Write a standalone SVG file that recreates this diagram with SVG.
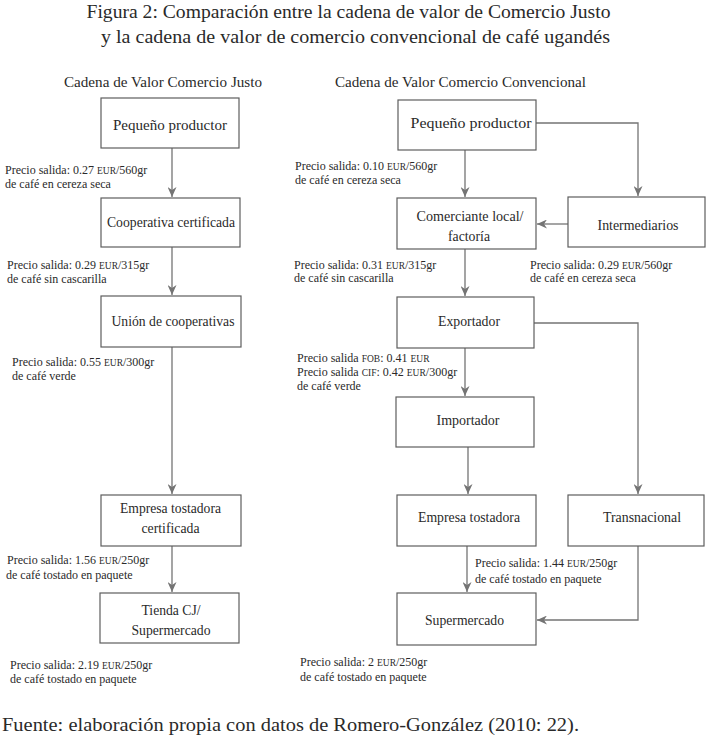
<svg xmlns="http://www.w3.org/2000/svg" width="711" height="747" viewBox="0 0 711 747" font-family="'Liberation Serif', 'Times New Roman', serif">
<defs>
<style>
text{font-family:"Liberation Serif","Times New Roman",serif;fill:#2a2a2a}
.title{font-size:19px}
.sub{font-size:15px}
.node{font-size:15px;text-anchor:middle}
.lbl{font-size:12px}
.sc{font-size:9.5px}
.box{fill:#ffffff;stroke:#5e5e5e;stroke-width:1.2}
.con{fill:none;stroke:#747474;stroke-width:1.3}
</style>
<marker id="ah" markerUnits="userSpaceOnUse" markerWidth="11" markerHeight="9" refX="10" refY="4.5" orient="auto">
<path d="M0,0 L10,4.5 L0,9 L3,4.5 Z" fill="#747474"/>
</marker>
</defs>
<rect width="711" height="747" fill="#ffffff"/>

<g id="titles">
<text class="title" x="348.5" y="18" text-anchor="middle" textLength="524" lengthAdjust="spacingAndGlyphs">Figura 2: Comparación entre la cadena de valor de Comercio Justo</text>
<text class="title" x="355.5" y="43" text-anchor="middle" textLength="509" lengthAdjust="spacingAndGlyphs">y la cadena de valor de comercio convencional de café ugandés</text>
<text class="sub" x="64" y="87" textLength="198" lengthAdjust="spacingAndGlyphs">Cadena de Valor Comercio Justo</text>
<text class="sub" x="335" y="87" textLength="251" lengthAdjust="spacingAndGlyphs">Cadena de Valor Comercio Convencional</text>
</g>

<g id="connectors">
<line class="con" x1="172" y1="148" x2="172" y2="197" marker-end="url(#ah)"/>
<line class="con" x1="172" y1="247" x2="172" y2="295" marker-end="url(#ah)"/>
<line class="con" x1="172" y1="347" x2="172" y2="494" marker-end="url(#ah)"/>
<line class="con" x1="172" y1="546" x2="172" y2="592" marker-end="url(#ah)"/>
<polyline class="con" points="536,123 638,123 638,196" marker-end="url(#ah)"/>
<line class="con" x1="465" y1="150" x2="465" y2="197" marker-end="url(#ah)"/>
<line class="con" x1="568" y1="224" x2="537" y2="224" marker-end="url(#ah)"/>
<line class="con" x1="465" y1="249" x2="465" y2="296" marker-end="url(#ah)"/>
<polyline class="con" points="534,323 638,323 638,494" marker-end="url(#ah)"/>
<line class="con" x1="465" y1="348" x2="465" y2="396" marker-end="url(#ah)"/>
<line class="con" x1="468" y1="447" x2="468" y2="494" marker-end="url(#ah)"/>
<line class="con" x1="467" y1="546" x2="467" y2="592" marker-end="url(#ah)"/>
<polyline class="con" points="638,546 638,620 537,620" marker-end="url(#ah)"/>
</g>

<g id="cj-productor"><rect class="box" x="101" y="98" width="138" height="50"/><text class="node" x="170" y="130" textLength="114" lengthAdjust="spacingAndGlyphs">Pequeño productor</text></g>
<g id="cj-cooperativa"><rect class="box" x="101" y="198" width="139" height="49"/><text class="node" x="171" y="227" textLength="128" lengthAdjust="spacingAndGlyphs">Cooperativa certificada</text></g>
<g id="cj-union"><rect class="box" x="101" y="296" width="140" height="51"/><text class="node" x="173" y="326" textLength="123" lengthAdjust="spacingAndGlyphs">Unión de cooperativas</text></g>
<g id="cj-tostadora"><rect class="box" x="101" y="495" width="140" height="51"/><text class="node" x="170.5" y="513" textLength="101" lengthAdjust="spacingAndGlyphs">Empresa tostadora</text><text class="node" x="170.5" y="533" textLength="58" lengthAdjust="spacingAndGlyphs">certificada</text></g>
<g id="cj-tienda"><rect class="box" x="100" y="593" width="139" height="50"/><text class="node" x="171" y="615" textLength="59" lengthAdjust="spacingAndGlyphs">Tienda CJ/</text><text class="node" x="171" y="635" textLength="79" lengthAdjust="spacingAndGlyphs">Supermercado</text></g>

<g id="cc-productor"><rect class="box" x="398" y="100" width="138" height="50"/><text class="node" x="471" y="128" textLength="121" lengthAdjust="spacingAndGlyphs">Pequeño productor</text></g>
<g id="cc-comerciante"><rect class="box" x="397" y="198" width="139" height="51"/><text class="node" x="470" y="221" textLength="107" lengthAdjust="spacingAndGlyphs">Comerciante local/</text><text class="node" x="469" y="241" textLength="42" lengthAdjust="spacingAndGlyphs">factoría</text></g>
<g id="cc-intermediarios"><rect class="box" x="568" y="197" width="137" height="50"/><text class="node" x="638" y="230" textLength="81" lengthAdjust="spacingAndGlyphs">Intermediarios</text></g>
<g id="cc-exportador"><rect class="box" x="397" y="297" width="137" height="51"/><text class="node" x="469" y="326" textLength="62" lengthAdjust="spacingAndGlyphs">Exportador</text></g>
<g id="cc-importador"><rect class="box" x="396" y="397" width="138" height="50"/><text class="node" x="468" y="425" textLength="63" lengthAdjust="spacingAndGlyphs">Importador</text></g>
<g id="cc-tostadora"><rect class="box" x="397" y="495" width="139" height="51"/><text class="node" x="469" y="522" textLength="102" lengthAdjust="spacingAndGlyphs">Empresa tostadora</text></g>
<g id="cc-transnacional"><rect class="box" x="568" y="495" width="136" height="51"/><text class="node" x="642" y="522" textLength="78" lengthAdjust="spacingAndGlyphs">Transnacional</text></g>
<g id="cc-supermercado"><rect class="box" x="397" y="593" width="139" height="52"/><text class="node" x="464.5" y="625" textLength="79" lengthAdjust="spacingAndGlyphs">Supermercado</text></g>

<g id="labels">
<text class="lbl" x="5" y="174">Precio salida: 0.27 <tspan class="sc">EUR</tspan>/560gr</text>
<text class="lbl" x="5" y="188">de café en cereza seca</text>
<text class="lbl" x="7" y="269">Precio salida: 0.29 <tspan class="sc">EUR</tspan>/315gr</text>
<text class="lbl" x="7" y="283">de café sin cascarilla</text>
<text class="lbl" x="12" y="366">Precio salida: 0.55 <tspan class="sc">EUR</tspan>/300gr</text>
<text class="lbl" x="12" y="380">de café verde</text>
<text class="lbl" x="7" y="564">Precio salida: 1.56 <tspan class="sc">EUR</tspan>/250gr</text>
<text class="lbl" x="6" y="579">de café tostado en paquete</text>
<text class="lbl" x="10" y="669">Precio salida: 2.19 <tspan class="sc">EUR</tspan>/250gr</text>
<text class="lbl" x="10" y="683">de café tostado en paquete</text>

<text class="lbl" x="295" y="170">Precio salida: 0.10 <tspan class="sc">EUR</tspan>/560gr</text>
<text class="lbl" x="295" y="183.5">de café en cereza seca</text>
<text class="lbl" x="294" y="268.5">Precio salida: 0.31 <tspan class="sc">EUR</tspan>/315gr</text>
<text class="lbl" x="294" y="282">de café sin cascarilla</text>
<text class="lbl" x="530" y="268.5">Precio salida: 0.29 <tspan class="sc">EUR</tspan>/560gr</text>
<text class="lbl" x="530" y="282">de café en cereza seca</text>
<text class="lbl" x="297" y="362">Precio salida <tspan class="sc">FOB</tspan>: 0.41 <tspan class="sc">EUR</tspan></text>
<text class="lbl" x="297" y="376">Precio salida <tspan class="sc">CIF</tspan>: 0.42 <tspan class="sc">EUR</tspan>/300gr</text>
<text class="lbl" x="297" y="389.5">de café verde</text>
<text class="lbl" x="475" y="567">Precio salida: 1.44 <tspan class="sc">EUR</tspan>/250gr</text>
<text class="lbl" x="475" y="583">de café tostado en paquete</text>
<text class="lbl" x="300" y="666">Precio salida: 2 <tspan class="sc">EUR</tspan>/250gr</text>
<text class="lbl" x="300" y="681">de café tostado en paquete</text>
</g>

<g id="footer">
<text x="2" y="731" font-size="18" textLength="577" lengthAdjust="spacingAndGlyphs">Fuente: elaboración propia con datos de Romero-González (2010: 22).</text>
</g>
</svg>
